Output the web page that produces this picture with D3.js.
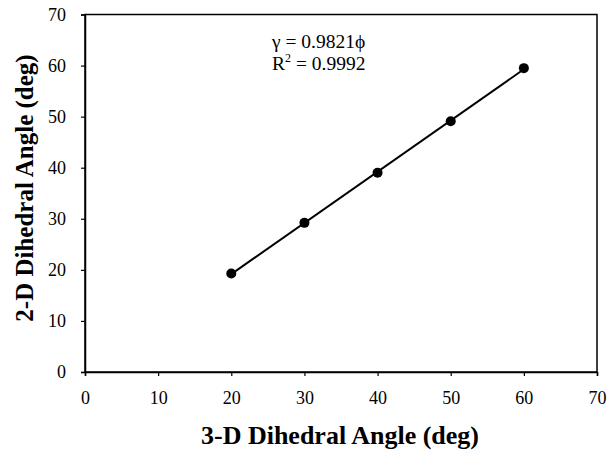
<!DOCTYPE html>
<html><head><meta charset="utf-8">
<script src="https://cdn.jsdelivr.net/npm/d3@7"></script>
<style>body{margin:0;background:#fff}svg{display:block}text{font-family:"Liberation Serif","Times New Roman",serif}</style>
</head><body>
<svg id="c" width="616" height="454"></svg>
<script>
const xValues = [20, 30, 40, 50, 60];
const yValues = [19.3, 29.2, 39.0, 49.1, 59.5];
const xTicks = [0, 10, 20, 30, 40, 50, 60, 70];
const yTicks = [0, 10, 20, 30, 40, 50, 60, 70];
const eqLines = ["γ = 0.9821ϕ", "R2 = 0.9992"];

const svg = d3.select("#c");
const L = 85, R = 597, T = 14.5, B = 372;
const x = d3.scaleLinear().domain([0, 70]).range([L, R]);
const y = d3.scaleLinear().domain([0, 70]).range([B, T]);

svg.append("rect").attr("x", L).attr("y", T).attr("width", R - L).attr("height", B - T)
  .attr("fill", "none").attr("stroke", "#000").attr("stroke-width", 1.5);

const xa = svg.append("g").attr("transform", `translate(0,${B})`)
  .call(d3.axisBottom(x).tickValues(xTicks).tickSize(4).tickPadding(15).tickFormat(d3.format("d")));
const ya = svg.append("g").attr("transform", `translate(${L},0)`)
  .call(d3.axisLeft(y).tickValues(yTicks).tickSize(4).tickPadding(15).tickFormat(d3.format("d")));
[xa, ya].forEach(a => {
  a.select(".domain").attr("stroke-width", 1.5);
  a.selectAll("line").attr("stroke-width", 1.2);
  a.selectAll("text").attr("font-size", 18).attr("fill", "#000").style("font-family", '"Liberation Serif",serif');
});

const mx = d3.mean(xValues), my = d3.mean(yValues);
const slope = d3.sum(xValues.map((v, i) => (v - mx) * (yValues[i] - my))) / d3.sum(xValues.map(v => (v - mx) ** 2));
const icpt = my - slope * mx;
const x0 = d3.min(xValues), x1 = d3.max(xValues);
svg.append("line").attr("x1", x(x0)).attr("y1", y(icpt + slope * x0))
  .attr("x2", x(x1)).attr("y2", y(icpt + slope * x1))
  .attr("stroke", "#000").attr("stroke-width", 2);

svg.selectAll("circle.pt").data(xValues).join("circle").attr("class", "pt")
  .attr("cx", d => x(d)).attr("cy", (d, i) => y(yValues[i])).attr("r", 5).attr("fill", "#000");

svg.append("text").attr("x", 272).attr("y", 48).attr("font-size", 19.5).text(eqLines[0]);
const t2 = svg.append("text").attr("x", 272).attr("y", 70).attr("font-size", 19.5);
t2.append("tspan").text("R");
t2.append("tspan").attr("dy", -8).attr("font-size", 12).text("2");
t2.append("tspan").attr("dy", 8).text(" = 0.9992");

svg.append("text").attr("x", 340).attr("y", 444).attr("text-anchor", "middle")
  .attr("font-size", 26).attr("font-weight", "bold").text("3-D Dihedral Angle (deg)");
svg.append("text").attr("transform", `translate(33,188) rotate(-90)`).attr("text-anchor", "middle")
  .attr("font-size", 25).attr("font-weight", "bold").text("2-D Dihedral Angle (deg)");
</script>
</body></html>
